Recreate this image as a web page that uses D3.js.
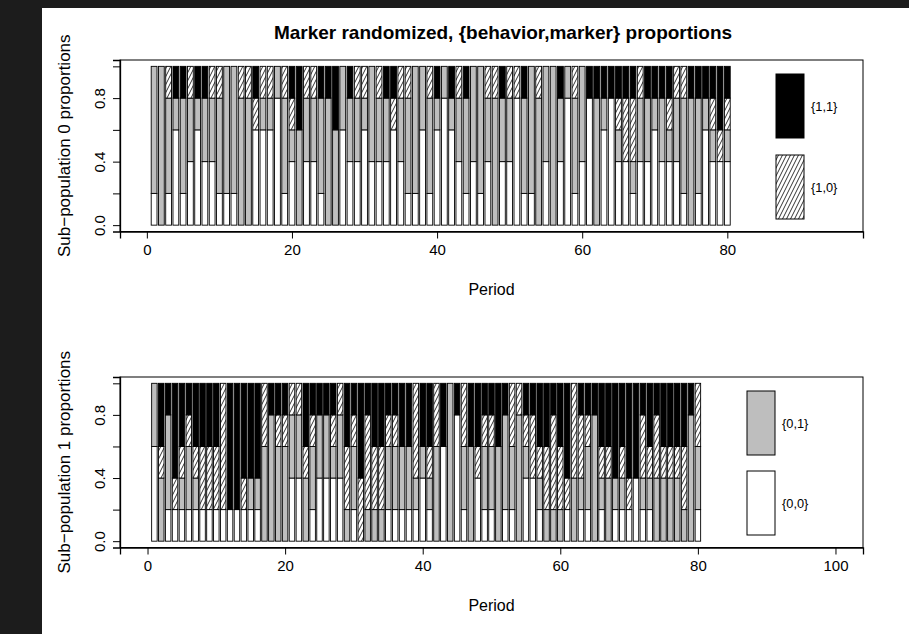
<!DOCTYPE html>
<html><head><meta charset="utf-8">
<script src="https://cdn.jsdelivr.net/npm/d3@7/dist/d3.min.js"></script>
<style>body{margin:0;background:#fff;} svg{display:block;}</style>
</head><body>
<script>
// ---------------- DATA ----------------
const periods = d3.range(1, 81);
const categories = ["{0,0}", "{0,1}", "{1,0}", "{1,1}"];
const xTicksTop = [0, 20, 40, 60, 80];
const xTicksBottom = [0, 20, 40, 60, 80, 100];
const yTicks = [0, 0.2, 0.4, 0.6, 0.8, 1.0];
const yTickLabels = ["0.0", "", "0.4", "", "0.8", ""];

// Sub-population 0
const sub0_00 = [0.2,0,0.2,0.6,0.2,0.4,0.6,0.4,0.4,0.2, 0.2,0.2,0,0,0.6,0.6,0.6,0.8,0.2,0.4, 0,0.4,0.4,0.2,0,0,0.6,0.4,0.4,0.6, 0.4,0.4,0.4,0.6,0.4,0.2,0.2,0.6,0.2,0.6, 0.8,0.6,0.4,0.2,0.4,0.2,0.4,0,0.4,0.4, 0.8,0.2,0.2,0,0.4,0,0.4,0.8,0.2,0.4, 0.8,0,0.6,0.8,0.4,0.4,0.2,0.4,0.4,0.6, 0.4,0.4,0.4,0.2,0,0.2,0.6,0.4,0.4,0.4];
const sub0_01 = [0.8,1,0.6,0.2,0.6,0.4,0.2,0.4,0.4,0.6, 0.8,0.8,0.8,0.8,0,0.2,0.2,0.2,0.6,0.2, 0.6,0.4,0.4,0.6,0.8,0.6,0.4,0.4,0.4,0.2, 0.6,0.4,0.4,0,0.4,0.6,0.8,0.4,0.6,0.2, 0.2,0.2,0.4,0.6,0.6,0.8,0.4,0.8,0.4,0.4, 0,0.6,0.8,0.8,0.6,1,0.4,0.2,0.6,0.6, 0,0.8,0.2,0,0.2,0,0.2,0.4,0.4,0.2, 0.4,0.2,0.4,0.6,0.8,0.6,0.2,0.2,0,0.2];
const sub0_10 = [0,0,0.2,0,0,0.2,0,0,0.2,0.2, 0,0,0.2,0.2,0.2,0.2,0.2,0,0.2,0.2, 0,0.2,0.2,0,0,0,0,0,0.2,0.2, 0,0.2,0,0.2,0.2,0.2,0,0,0.2,0, 0,0,0.2,0,0,0,0.2,0.2,0,0.2, 0.2,0,0,0.2,0,0,0,0,0.2,0, 0,0,0,0,0.2,0.4,0.4,0.2,0,0, 0,0.2,0.2,0.2,0,0,0,0.2,0.2,0.2];
const sub0_11 = [0,0,0,0.2,0.2,0,0.2,0.2,0,0, 0,0,0,0,0.2,0,0,0,0,0.2, 0.4,0,0,0.2,0.2,0.4,0,0.2,0,0, 0,0,0.2,0.2,0,0,0,0,0,0.2, 0,0.2,0,0.2,0,0,0,0,0.2,0, 0,0.2,0,0,0,0,0.2,0,0,0, 0.2,0.2,0.2,0.2,0.2,0.2,0.2,0,0.2,0.2, 0.2,0.2,0,0,0.2,0.2,0.2,0.2,0.4,0.2];

// Sub-population 1
const sub1_00 = [0.6,0,0.2,0.2,0.2,0.2,0.2,0.2,0.2,0.2, 0.2,0.2,0.2,0.2,0.2,0.2,0,0,0,0, 0.4,0.4,0,0.2,0.4,0.4,0.4,0.4,0,0.2, 0,0,0,0,0.2,0.2,0.2,0.2,0.2,0.4, 0.2,0,0.6,0,0.8,0.2,0,0.4,0.2,0.2, 0,0.2,0.2,0,0.4,0.4,0.2,0,0,0, 0.2,0,0.2,0.2,0,0.2,0,0.2,0.2,0.2, 0.4,0.2,0.2,0,0,0,0,0,0,0.2];
const sub1_01 = [0.4,0.4,0.6,0,0.2,0.4,0.2,0,0,0, 0,0,0,0,0.2,0.2,0.6,0.8,0.6,0.6, 0.4,0.4,0.4,0.4,0.4,0.4,0.2,0.4,0.2,0.4, 0,0.2,0.2,0.2,0.4,0.4,0.4,0.4,0.2,0.2, 0.2,0.6,0,1,0,0.4,0.6,0,0.4,0.4, 0.6,0.6,0.4,0.8,0.2,0,0.2,0.2,0.2,0.2, 0,0.4,0.2,0.4,0.8,0.2,0.4,0.2,0.2,0, 0,0.2,0.2,0.4,0.4,0.4,0.4,0.2,0.8,0.4];
const sub1_10 = [0,0.2,0,0.2,0.2,0.2,0.2,0.4,0.4,0.4, 0.8,0,0,0.2,0,0,0.4,0,0.2,0.2, 0.2,0.2,0.2,0.2,0,0,0.2,0.2,0.4,0.2, 0.4,0.6,0.4,0.4,0.2,0.2,0,0,0.6,0, 0.2,0.4,0,0,0,0.4,0,0.2,0.2,0.2, 0,0,0.4,0.2,0.2,0.4,0.2,0.4,0.6,0.4, 0.2,0.6,0.4,0.2,0,0.2,0.2,0,0.2,0.2, 0,0.4,0.2,0.4,0.2,0.2,0.2,0.4,0,0.4];
const sub1_11 = [0,0.4,0.2,0.6,0.4,0.2,0.4,0.4,0.4,0.4, 0,0.8,0.8,0.6,0.6,0.6,0,0.2,0.2,0.2, 0,0,0.4,0.2,0.2,0.2,0.2,0,0.4,0.2, 0.6,0.2,0.4,0.4,0.2,0.2,0.4,0.4,0,0.4, 0.4,0,0.4,0,0.2,0,0.4,0.4,0.2,0.2, 0.4,0.2,0,0,0.2,0.2,0.4,0.4,0.2,0.4, 0.6,0,0.2,0.2,0.2,0.4,0.4,0.6,0.4,0.6, 0.6,0.2,0.4,0.2,0.4,0.4,0.4,0.4,0.2,0];

// ---------------- DRAW ----------------
const W = 909, H = 634;
const FONT = "'Liberation Sans', Arial, Helvetica, sans-serif";
const svg = d3.select("body").append("svg").attr("width", W).attr("height", H)
  .style("font-family", FONT);

// dark screenshot border
svg.append("rect").attr("x", 0).attr("y", 0).attr("width", W).attr("height", H).attr("fill", "#1c1c1c");
svg.append("rect").attr("x", 42).attr("y", 8).attr("width", W - 42).attr("height", H - 8).attr("fill", "#fff");

const defs = svg.append("defs");
const pat = defs.append("pattern").attr("id", "hatch").attr("patternUnits", "userSpaceOnUse")
  .attr("width", 4).attr("height", 8);
pat.append("rect").attr("width", 4).attr("height", 8).attr("fill", "#fff");
pat.append("path").attr("d", "M-4,8 L0,0 M0,8 L4,0 M4,8 L8,0")
  .attr("stroke", "#000").attr("stroke-width", 0.8).attr("fill", "none");

const fills = {"{0,0}": "#ffffff", "{0,1}": "#bebebe", "{1,0}": "url(#hatch)", "{1,1}": "#000000"};

function panel(opts) {
  const {data, xDomain, box, xTicks, ylab, legendKeys, legendX} = opts;
  const x = d3.scaleLinear().domain(xDomain).range([box.x0, box.x1]);
  const y = d3.scaleLinear().domain([-0.04, 1.04]).range([box.y1, box.y0]);
  const rows = periods.map((p, i) => ({period: p, "{0,0}": data[0][i], "{0,1}": data[1][i], "{1,0}": data[2][i], "{1,1}": data[3][i]}));
  const series = d3.stack().keys(categories)(rows);
  const g = svg.append("g");
  const bw = 0.8;
  series.forEach(s => {
    g.selectAll(null).data(s.filter(d => d[1] - d[0] > 1e-9)).join("rect")
      .attr("x", d => x(d.data.period - bw / 2))
      .attr("width", d => x(d.data.period + bw / 2) - x(d.data.period - bw / 2))
      .attr("y", d => y(d[1]))
      .attr("height", d => y(d[0]) - y(d[1]))
      .attr("fill", fills[s.key])
      .attr("stroke", "#000").attr("stroke-width", 0.9);
  });
  // box
  svg.append("rect").attr("x", box.x0).attr("y", box.y0).attr("width", box.x1 - box.x0).attr("height", box.y1 - box.y0)
    .attr("fill", "none").attr("stroke", "#000").attr("stroke-width", 1);
  // x axis
  const xa = svg.append("g").attr("transform", `translate(0,${box.y1})`)
    .call(d3.axisBottom(x).tickValues(xTicks).tickSize(7).tickPadding(6).tickFormat(d3.format("d")));
  xa.select(".domain").attr("stroke-width", 1.3);
  xa.selectAll("text").attr("font-size", 15).attr("font-family", FONT).attr("fill", "#000");
  // y axis
  const ya = svg.append("g").attr("transform", `translate(${box.x0},0)`)
    .call(d3.axisLeft(y).tickValues(yTicks).tickSize(7).tickPadding(0).tickFormat((d, i) => yTickLabels[i]));
  ya.select(".domain").attr("stroke-width", 1.3);
  ya.selectAll("text").attr("font-size", 15).attr("font-family", FONT).attr("fill", "#000")
    .attr("text-anchor", "middle").attr("dy", 0)
    .attr("transform", "translate(-15,0) rotate(-90)")
    .attr("x", 0).attr("y", 0);
  // x label
  svg.append("text").attr("x", (box.x0 + box.x1) / 2).attr("y", box.y1 + 63)
    .attr("text-anchor", "middle").attr("font-size", 16).text("Period");
  // y label
  svg.append("text").attr("transform", `translate(70,${(box.y0 + box.y1) / 2}) rotate(-90)`)
    .attr("text-anchor", "middle").attr("font-size", 17).text(ylab);
  // legend
  legendKeys.forEach((k, i) => {
    const ly0 = opts.legendY[i];
    svg.append("rect").attr("x", legendX).attr("y", ly0).attr("width", 28).attr("height", 64)
      .attr("fill", fills[k]).attr("stroke", "#000").attr("stroke-width", 1);
    svg.append("text").attr("x", legendX + 35).attr("y", ly0 + 37).attr("font-size", 12.8).text(k);
  });
}

panel({
  data: [sub0_00, sub0_01, sub0_10, sub0_11],
  xDomain: [-3.7, 98.7],
  box: {x0: 120, x1: 863, y0: 60, y1: 231.5},
  xTicks: xTicksTop,
  ylab: "Sub\u2212population 0 proportions",
  legendKeys: ["{1,1}", "{1,0}"],
  legendX: 776, legendY: [74, 155]
});
panel({
  data: [sub1_00, sub1_01, sub1_10, sub1_11],
  xDomain: [-4, 104],
  box: {x0: 120, x1: 863, y0: 377, y1: 547.5},
  xTicks: xTicksBottom,
  ylab: "Sub\u2212population 1 proportions",
  legendKeys: ["{0,1}", "{0,0}"],
  legendX: 747, legendY: [391, 471]
});

svg.append("text").attr("x", 503).attr("y", 39).attr("text-anchor", "middle")
  .attr("font-size", 19).attr("font-weight", "bold").text("Marker randomized, {behavior,marker} proportions");
</script>
</body></html>
